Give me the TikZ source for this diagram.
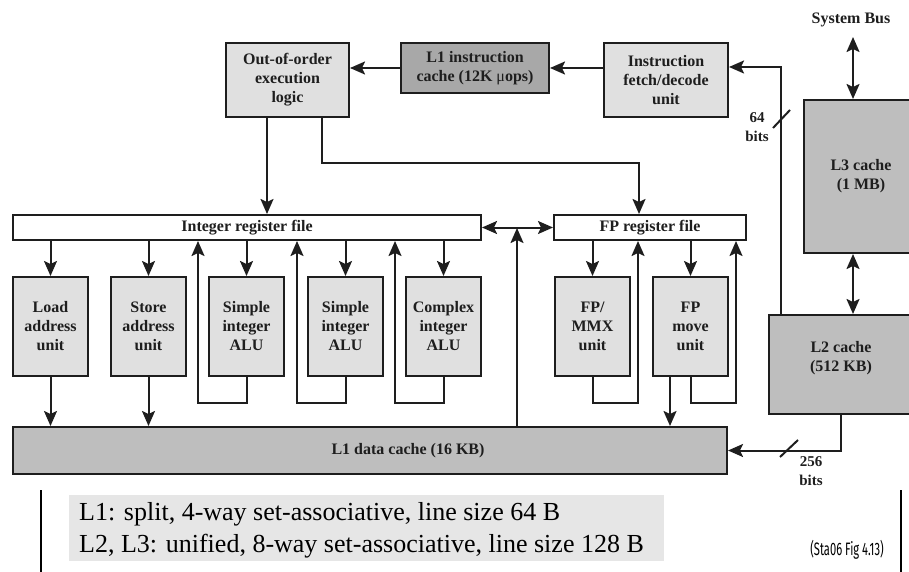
\documentclass[tikz,border=0pt]{standalone}
\usepackage{fontspec}
\setmainfont{Liberation Serif}
\newfontfamily\capfont{Fira Sans}
\usetikzlibrary{arrows.meta}

\definecolor{unitgray}{HTML}{E0E0E0}
\definecolor{cachegray}{HTML}{BEBEBE}
\definecolor{icachegray}{HTML}{A8A8A8}
\definecolor{linecol}{HTML}{1E1E1E}
\definecolor{notegray}{HTML}{E6E6E6}

\begin{document}
\begin{tikzpicture}[x=1pt,y=-1pt,
  lbl/.style={font=\fontsize{16}{19}\selectfont\bfseries, align=center, text=linecol},
  small/.style={font=\fontsize{15}{19}\selectfont\bfseries, align=center, text=linecol, inner sep=0pt},
  box/.style={lbl, draw=linecol, line width=2pt, anchor=north west, inner sep=0pt},
  unitbox/.style={box, fill=unitgray, minimum width=75pt, minimum height=99pt},
  cachebox/.style={box, fill=cachegray},
  regbox/.style={box, fill=white, minimum height=25pt},
  wire/.style={draw=linecol, line width=2pt},
  arr/.style={wire, -{Stealth[length=15pt,width=13pt,inset=3pt]}},
  dbl/.style={wire, {Stealth[length=15pt,width=13pt,inset=3pt]}-{Stealth[length=15pt,width=13pt,inset=3pt]}},
]
\useasboundingbox (0,0) rectangle (909,572);
\clip (0,0) rectangle (909,572);

% front end
\node[box, fill=unitgray, minimum width=123pt, minimum height=74pt] (ooo) at (225,42) {Out-of-order\\execution\\logic};
\node[box, fill=icachegray, minimum width=148pt, minimum height=50pt] (l1i) at (400,42) {L1 instruction\\cache (12K {\mdseries μ}ops)};
\node[box, fill=unitgray, minimum width=124pt, minimum height=74pt] (ifd) at (603,42) {Instruction\\fetch/decode\\unit};

% outer caches and the bus
\node[lbl, inner sep=0pt] (sysbus) at (851,20) {System Bus};
\coordinate (busend) at (853,37);
\node[cachebox, minimum width=114pt, minimum height=153pt] (l3) at (803,99) {L3 cache\\(1 MB)};
\node[cachebox, minimum width=144pt, minimum height=99pt,
      label={[lbl, yshift=6pt]center:L2 cache\\(512 KB)}] (l2) at (768,314) {};

% register files
\node[regbox, minimum width=468pt] (intreg) at (12,214) {Integer register file};
\node[regbox, minimum width=192pt] (fpreg) at (553,214) {FP register file};

% execution units
\node[unitbox] (load)  at (12,276)  {Load\\address\\unit};
\node[unitbox] (store) at (110,276) {Store\\address\\unit};
\node[unitbox] (alua)  at (208,276) {Simple\\integer\\ALU};
\node[unitbox] (alub)  at (307,276) {Simple\\integer\\ALU};
\node[unitbox] (aluc)  at (405,276) {Complex\\integer\\ALU};
\node[unitbox] (fpmmx) at (554,276) {FP/\\MMX\\unit};
\node[unitbox] (fpmov) at (652,276) {FP\\move\\unit};

% data cache
\node[cachebox, minimum width=714pt, minimum height=47pt,
      label={[lbl, xshift=38pt]center:L1 data cache (16 KB)}] (l1d) at (12,426) {};

% front-end flow
\draw[arr] (l1i.west) -- (ooo.east |- l1i.west);
\draw[arr] (ifd.west |- l1i.east) -- (l1i.east);
\draw[arr] (l2.north -| 781,0) |- ([yshift=13pt]ifd.east);
\draw[wire] (773,128) -- (790,110);
\node[small] (w64) at (757,127) {64\\bits};

% bus and cache links
\draw[dbl] (l3.north -| busend) -- (busend);
\draw[dbl] (l3.south -| 853,0) -- (l2.north -| 853,0);
\draw[arr] (l2.south -| 841,0) |- (l1d.east);
\draw[wire] (780,457) -- (798,440);
\node[small] (w256) at (811,471) {256\\bits};

% dispatch to the register files
\draw[arr] (ooo.south -| 267,0) -- (intreg.north -| 267,0);
\draw[arr] (ooo.south -| 322,0) -- (322,163) -| (fpreg.north -| 639,0);
\draw[dbl] (intreg.east) -- (fpreg.west);
\draw[arr] (l1d.north -| 517,0) -- (517,228);

% register file to units
\foreach \u in {load,store,alua,alub,aluc}
  \draw[arr] (intreg.south -| \u.north) -- (\u.north);
\foreach \u in {fpmmx,fpmov}
  \draw[arr] (fpreg.south -| \u.north) -- (\u.north);

% address units to the data cache
\draw[arr] (load.south) -- (l1d.north -| load.south);
\draw[arr] (store.south) -- (l1d.north -| store.south);
\draw[arr] (fpmov.south -| 670,0) -- (l1d.north -| 670,0);

% result write-back loops
\draw[arr] (alua.south) -- (alua.south |- 0,403) -| (intreg.south -| 198,0);
\draw[arr] (alub.south) -- (alub.south |- 0,403) -| (intreg.south -| 297,0);
\draw[arr] (aluc.south) -- (aluc.south |- 0,403) -| (intreg.south -| 395,0);
\draw[arr] (fpmmx.south) -- (fpmmx.south |- 0,403) -| (fpreg.south -| 638,0);
\draw[arr] (fpmov.south) -- (fpmov.south |- 0,403) -| (fpreg.south -| 736,0);

% cache parameters note
\draw[line width=1.3pt] (41,490) -- (41,572);
\draw[line width=1.3pt] (901,490) -- (901,572);
\node[fill=notegray, anchor=north west, minimum width=595pt, minimum height=66pt, inner sep=0pt] (note) at (69,495) {};
\node[anchor=base west, inner sep=0pt, font=\fontsize{26}{32}\selectfont] (note1) at (79,520) {L1: split, 4-way set-associative, line size 64 B};
\node[anchor=base west, inner sep=0pt, font=\fontsize{26}{32}\selectfont] (note2) at (79,552) {L2, L3: unified, 8-way set-associative, line size 128 B};
\node[anchor=base, inner sep=0pt, font=\capfont\fontsize{18}{20}\selectfont] (src) at (847,555) {\scalebox{0.62}[1]{(Sta06 Fig 4.13)}};
\end{tikzpicture}
\end{document}
